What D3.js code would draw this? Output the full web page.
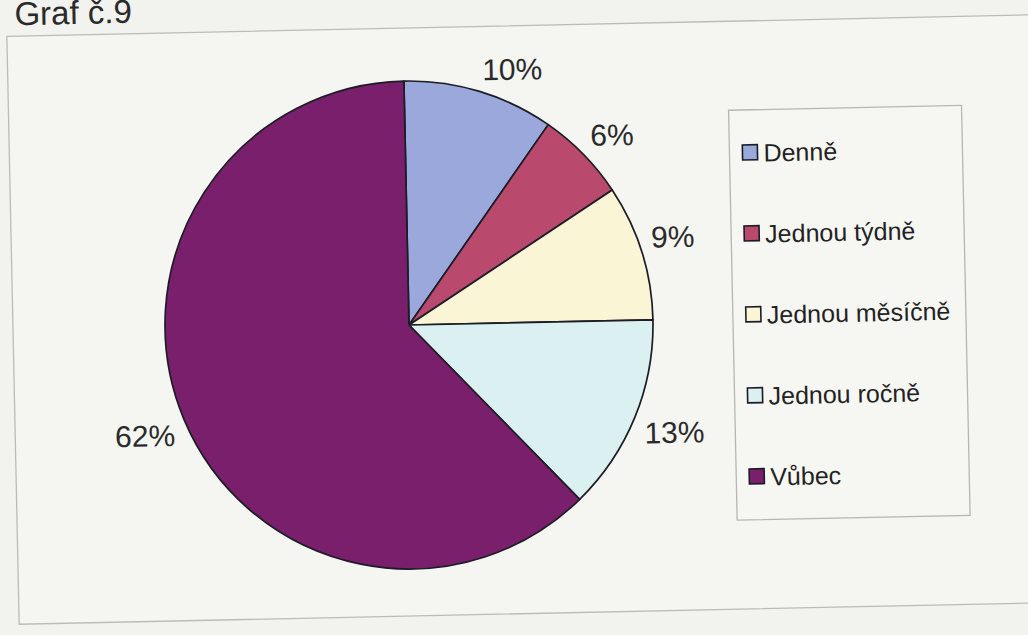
<!DOCTYPE html>
<html><head><meta charset="utf-8">
<script src="https://cdn.jsdelivr.net/npm/d3@7"></script>
<style>
html,body{margin:0;padding:0;background:#f2f2ee;}
svg{display:block;font-family:"Liberation Sans",Arial,sans-serif;}
</style></head>
<body>
<svg id="chart" width="1028" height="635"></svg>
<script>
const categories = ["Denně","Jednou týdně","Jednou měsíčně","Jednou ročně","Vůbec"];
const values = [10, 6, 9, 13, 62];
const labels = ["10%","6%","9%","13%","62%"];
const colors = ["#9ba8dc","#b94a6e","#faf5d4","#daf0f1","#7a1f6c"];
const title = "Graf č.9";

const svg = d3.select("#chart");
svg.append("rect").attr("width",1028).attr("height",635).attr("fill","#f2f2ee");

const cx = 409, cy = 325, r = 244;
// the photographed sheet is slightly rotated
const root = svg.append("g").attr("transform",`rotate(-1.2,${cx},${cy})`);

root.append("rect").attr("x",13).attr("y",28).attr("width",1030).attr("height",588)
  .attr("fill","#f5f5f1").attr("stroke","#bcbcb7").attr("stroke-width",1.3);

root.append("text").attr("x",21).attr("y",17).attr("font-size",33).attr("fill","#2a2a2a").text(title);

const g = root.append("g").attr("transform",`translate(${cx},${cy})`);
const pie = d3.pie().sort(null).value(d=>d.v);
const data = pie(values.map((v,i)=>({v, i})));
const arc = d3.arc().innerRadius(0).outerRadius(r);

g.selectAll("path.slice").data(data).join("path")
  .attr("class","slice")
  .attr("d",arc)
  .attr("fill",d=>colors[d.data.i])
  .attr("stroke","#1c1c26").attr("stroke-width",1.7).attr("stroke-linejoin","round");

const fs = 30, gap = 10;
const lbl = g.selectAll("text.lbl").data(data).join("text")
  .attr("class","lbl")
  .attr("text-anchor","middle").attr("dominant-baseline","central")
  .attr("font-size",fs).attr("fill","#2a2a2a")
  .text(d=>labels[d.data.i]);
lbl.attr("transform",function(d){
  const a = (d.startAngle + d.endAngle)/2;
  const w = this.getComputedTextLength(), h = fs*0.8;
  const sx = Math.sin(a), sy = -Math.cos(a);
  const px = (r+gap)*sx, py = (r+gap)*sy;
  return `translate(${px + Math.sign(sx)*w/2},${py + Math.sign(sy)*h/2})`;
});

// legend
const lg = root.append("g");
lg.append("rect").attr("x",733).attr("y",117).attr("width",233).attr("height",410)
  .attr("fill","#f6f6f2").attr("stroke","#b6b6b2").attr("stroke-width",1.3);
const ly = d3.scalePoint().domain(categories).range([160,484]);
const items = lg.selectAll("g.item").data(categories).join("g").attr("class","item")
  .attr("transform",d=>`translate(746,${ly(d)})`);
items.append("rect").attr("x",0).attr("y",-8).attr("width",15).attr("height",15)
  .attr("fill",(d,i)=>colors[i]).attr("stroke","#1c1c26").attr("stroke-width",1.6);
items.append("text").attr("x",21).attr("y",0).attr("dominant-baseline","central")
  .attr("font-size",25).attr("fill","#222").text(d=>d);
</script>
</body></html>
